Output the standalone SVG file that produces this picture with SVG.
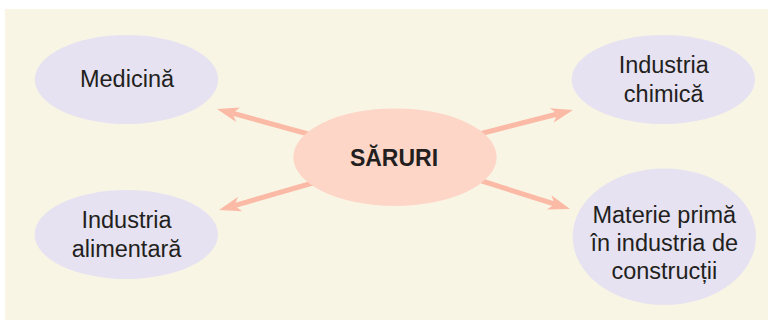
<svg xmlns="http://www.w3.org/2000/svg" width="769" height="320" viewBox="0 0 769 320">
<defs>
<style>
.bg{fill:#f9f5e5}
.node{fill:#e6e2f1}
.center{fill:#fdd6c8}
.conn{stroke:#fbbaa6;stroke-width:5;fill:none}
text{font-family:"Liberation Sans",Arial,sans-serif;font-size:23.5px;fill:#231f20;text-anchor:middle}
.bold{font-weight:bold;font-size:23px}
</style>
<marker id="ah" markerUnits="userSpaceOnUse" markerWidth="30" markerHeight="20" refX="0" refY="0" viewBox="-8 -10 26 20" orient="auto" overflow="visible">
<path d="M16,0 L-6,-7.5 L0,0 L-6,7.5 Z" fill="#fbbaa6"/>
</marker>
</defs>
<rect class="bg" x="5" y="9" width="763" height="311"/>
<g id="connectors">
<line class="conn" x1="330" y1="140" x2="232.4" y2="113.2" marker-end="url(#ah)"/>
<line class="conn" x1="460" y1="139" x2="557.5" y2="114" marker-end="url(#ah)"/>
<line class="conn" x1="330" y1="178" x2="234.4" y2="205.6" marker-end="url(#ah)"/>
<line class="conn" x1="460" y1="174" x2="554.8" y2="204.2" marker-end="url(#ah)"/>
</g>
<g id="saruri">
<ellipse class="center" cx="395" cy="157.2" rx="101.7" ry="48.8"/>
<text class="bold" x="394" y="165.7">SĂRURI</text>
</g>
<g id="medicina">
<ellipse class="node" cx="126.5" cy="79.5" rx="91.7" ry="44.5"/>
<text x="127" y="87">Medicină</text>
</g>
<g id="industria-chimica">
<ellipse class="node" cx="663.3" cy="79.5" rx="91.7" ry="44.5"/>
<text x="663.7" y="73.3">Industria</text>
<text x="663.7" y="101.7">chimică</text>
</g>
<g id="industria-alimentara">
<ellipse class="node" cx="126.3" cy="234.5" rx="91.7" ry="44.5"/>
<text x="126.5" y="228.3">Industria</text>
<text x="126.5" y="256.7">alimentară</text>
</g>
<g id="materie-prima">
<ellipse class="node" cx="664.3" cy="236.7" rx="91.7" ry="68.3"/>
<text x="664.3" y="222.7">Materie primă</text>
<text x="664.3" y="250.7">în industria de</text>
<text x="664.3" y="279">construcții</text>
</g>
</svg>
